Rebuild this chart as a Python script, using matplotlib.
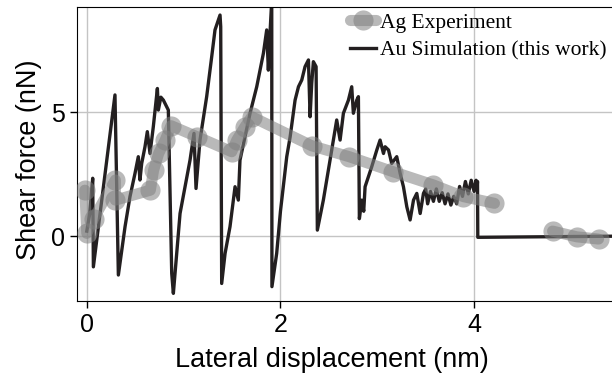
import numpy as np
import matplotlib
matplotlib.use('Agg')
import matplotlib.pyplot as plt

# Au simulation trace (nm, nN)
sim_x = [0.0, 0.03, 0.061, 0.068, 0.291, 0.326, 0.395, 0.446, 0.498, 0.532,
         0.549, 0.567, 0.601, 0.625, 0.653, 0.687, 0.729, 0.739, 0.765, 0.791,
         0.842, 0.877, 0.894, 0.963, 1.066, 1.107, 1.128, 1.169, 1.238, 1.290,
         1.324, 1.376, 1.383, 1.393, 1.428, 1.479, 1.531, 1.565, 1.582, 1.686,
         1.755, 1.824, 1.858, 1.875, 1.892, 1.910, 1.912, 1.961, 2.0, 2.065,
         2.10, 2.151, 2.186, 2.220, 2.254, 2.289, 2.306, 2.323, 2.340, 2.368,
         2.381, 2.443, 2.512, 2.581, 2.616, 2.650, 2.702, 2.736, 2.753, 2.788,
         2.805, 2.815, 2.84, 2.86, 2.874, 2.943, 2.995, 3.029, 3.064, 3.081,
         3.116, 3.149, 3.201, 3.236, 3.270, 3.305, 3.339, 3.374, 3.408, 3.443,
         3.477, 3.50, 3.52, 3.55, 3.58, 3.61, 3.64, 3.67, 3.70, 3.73,
         3.76, 3.79, 3.82, 3.85, 3.88, 3.91, 3.94, 3.97, 4.0, 4.02,
         4.03, 4.035, 4.038, 5.6]
sim_y = [0.2, 0.9, 2.33, -1.24, 5.69, -1.57, 0.38, 1.59, 2.53, 3.20,
         2.26, 2.93, 3.60, 4.21, 3.33, 4.41, 5.95, 5.08, 5.6, 5.48,
         5.08, -1.50, -2.31, 0.91, 3.06, 4.14, 1.92, 3.87, 5.62, 7.23,
         8.31, 8.91, 8.44, -1.91, -0.70, 0.38, 1.99, 1.45, 3.06, 4.95,
         6.02, 7.37, 8.31, 6.69, 8.17, 9.5, -2.04, -0.70, 1.0, 3.2,
         4.0, 5.48, 6.02, 6.29, 6.83, 7.10, 4.81, 6.16, 7.03, 6.83,
         0.24, 1.45, 3.06, 4.68, 3.87, 4.95, 5.48, 6.02, 4.95, 5.48,
         5.62, 0.7, 1.45, 1.0, 1.99, 2.80, 3.47, 3.87, 3.33, 3.60,
         3.47, 2.93, 3.20, 2.53, 1.99, 1.18, 0.65, 1.45, 1.72, 0.91,
         1.72, 1.9, 1.3, 1.8, 1.4, 1.9, 1.4, 1.75, 1.3, 1.7,
         1.25, 1.6, 1.3, 2.0, 1.6, 2.2, 1.7, 2.25, 1.8, 2.25,
         1.9, 2.2, -0.05, 0.0]

# Ag experiment points (nan = gap in the line)
exp_x = [-0.02, 0.0, 0.07, 0.295, 0.295, 0.656, 0.69, 0.742, 0.81, 0.87,
         1.135, 1.497, 1.549, 1.634, 1.704, 2.323, 2.71, 3.167, 3.58, 3.89,
         4.21, np.nan, 4.81, 5.06, 5.285]
exp_y = [1.85, 0.11, 0.7, 2.26, 1.45, 1.85, 2.66, 3.33, 3.87, 4.45,
         4.01, 3.40, 3.87, 4.41, 4.81, 3.64, 3.2, 2.59, 2.06, 1.59,
         1.32, np.nan, 0.2, -0.03, -0.12]

fig = plt.figure(figsize=(6.12, 3.74), dpi=100)
ax = fig.add_axes([0.126, 0.195, 0.874, 0.786])

ax.plot(exp_x, exp_y, color='gray', alpha=0.55, lw=8, marker='o',
        markersize=14.5, markeredgewidth=0, solid_capstyle='round',
        label='Ag Experiment', zorder=3)
ax.plot(sim_x, sim_y, color='#231f20', lw=2.4, label='Au Simulation (this work)',
        zorder=2)

ax.set_xlim(-0.1, 5.424)
ax.set_ylim(-2.62, 9.23)
ax.set_xticks([0, 2, 4])
ax.set_yticks([0, 5])
ax.grid(True, color='#c4c4c4', lw=1)
ax.set_axisbelow(True)
ax.spines['right'].set_visible(False)
ax.tick_params(labelsize=18, length=5, width=1)
ax.set_xlabel('Lateral displacement (nm)', fontsize=19.5, family='Liberation Sans')
ax.set_ylabel('Shear force (nN)', fontsize=19.5, family='Liberation Sans')
ax.xaxis.set_label_coords(0.476, -0.155)
ax.yaxis.set_label_coords(-0.066, 0.48)
for lbl in ax.get_xticklabels() + ax.get_yticklabels():
    lbl.set_family('Liberation Sans')

ax.legend(loc='upper right', bbox_to_anchor=(1.0, 1.0), frameon=False,
          prop={'family': 'Liberation Serif', 'size': 15.5},
          handlelength=1.2, handletextpad=0.2, labelspacing=0.35,
          borderaxespad=0.0, borderpad=0.25)

fig.savefig('out.png', dpi=100)
